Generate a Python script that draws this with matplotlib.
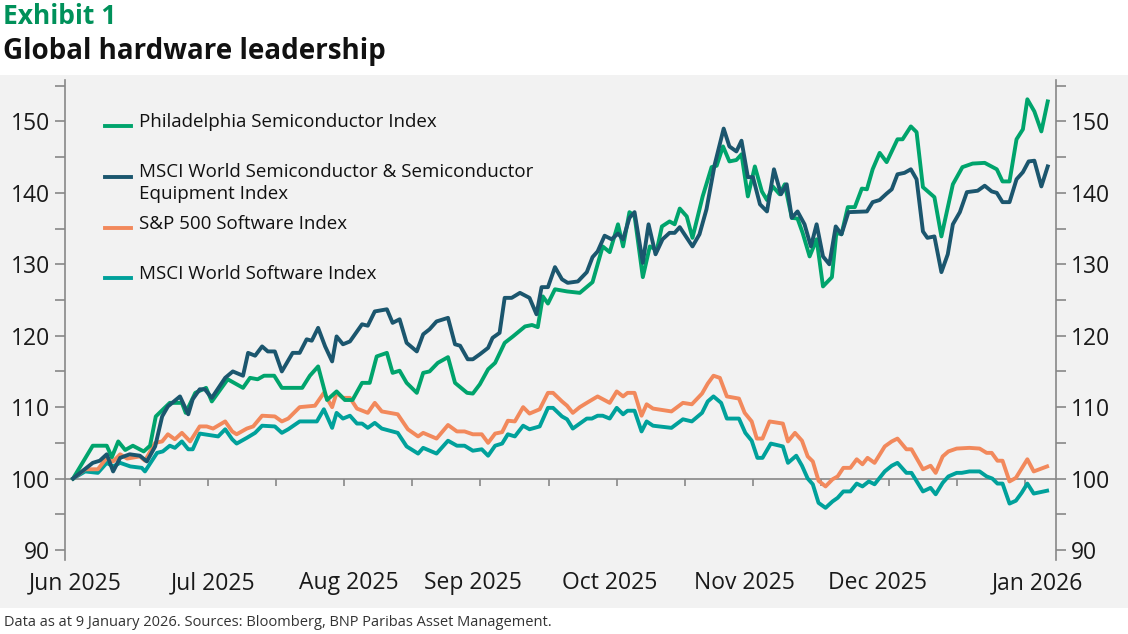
import matplotlib
matplotlib.use("Agg")
import matplotlib.pyplot as plt
from matplotlib.lines import Line2D
from matplotlib.patches import Rectangle
import numpy as np

plt.rcParams['font.family'] = ['Open Sans', 'DejaVu Sans']

series_names = ["Philadelphia Semiconductor Index",
                "MSCI World Semiconductor & Semiconductor\nEquipment Index",
                "S&P 500 Software Index",
                "MSCI World Software Index"]
colors = ["#00a46c", "#1b566e", "#f2895c", "#00a19b"]

# x = trading-day index from 2 Jun 2025
sox_x = [0,3.1,5.3,6.1,7.1,8.2,9.4,11.1,12.1,13.0,15.2,17.1,17.7,19.2,20.9,21.8,24.3,26.7,27.8,29.0,30.0,31.6,32.8,36.0,37.2,38.5,39.9,41.4,42.7,43.9,45.4,46.6,47.7,49.3,50.2,51.3,52.4,54.0,55.0,56.0,57.3,58.9,60.0,61.9,62.8,63.9,65.2,66.3,67.8,69.1,71.0,72.1,73.0,73.8,74.6,75.7,77.6,79.6,81.6,83.2,84.3,85.6,86.4,87.4,88.2,89.5,90.6,91.7,92.5,93.7,94.5,95.3,96.4,97.3,98.9,100.3,101.1,102.1,103.1,104.2,105.0,106.0,107.1,108.2,109.0,109.9,111.0,111.8,112.9,113.8,114.6,115.7,116.8,117.8,119.2,119.9,120.7,121.7,122.8,123.9,124.7,125.6,126.7,127.8,129.5,130.3,131.6,132.5,133.5,135.3,136.4,138.2,139.7,141.3,143.2,145.1,146.0,147.1,148.2,149.2,149.9,151.0,152.1,153.1]
sox_y = [100,104.6,104.6,103.0,105.2,104.0,104.6,103.8,104.6,108.7,110.6,110.6,109.2,112.0,112.7,110.8,113.9,112.7,114.1,113.9,114.4,114.4,112.7,112.7,114.4,115.7,111.0,112.2,111.0,111.0,113.4,113.4,117.1,117.6,114.8,115.1,113.4,112.0,114.8,115.0,116.2,117.0,113.4,112.0,111.9,113.2,115.3,116.2,119.0,119.9,121.3,121.5,121.2,125.5,124.5,126.5,126.2,126.0,127.5,132.5,131.7,135.6,132.5,137.3,136.8,128.2,132.5,132.0,135.3,136.0,135.6,137.8,136.7,133.7,139.5,143.6,143.8,146.5,144.4,144.6,145.4,139.5,143.7,140.2,139.0,140.9,139.8,141.2,136.5,136.4,134.4,131.1,133.5,126.9,128.2,134.4,134.2,138.0,138.0,140.6,140.5,143.3,145.6,144.3,147.5,147.5,149.3,148.5,140.8,139.4,133.9,141.2,143.6,144.1,144.2,143.3,141.6,141.6,147.5,148.9,153.1,151.4,148.6,152.8]

msemi_x = [0,3.1,4.2,5.3,6.3,7.4,8.9,10.5,11.6,12.9,14.0,14.9,16.8,18.1,18.8,19.9,20.7,21.8,23.9,25.1,26.7,27.5,28.6,29.7,30.6,31.7,32.8,34.5,35.6,36.7,37.5,38.5,39.6,40.7,41.4,42.4,43.5,45.4,46.3,47.4,49.3,50.2,51.3,52.4,54.0,55.0,56.0,57.1,58.9,60.0,60.8,62.0,62.8,63.9,65.2,65.9,67.0,67.8,68.9,70.2,71.7,72.8,73.6,74.6,75.7,76.8,77.7,79.3,80.7,81.6,82.4,83.5,84.6,85.6,86.4,87.4,88.2,89.5,90.4,91.5,92.6,93.7,94.5,95.3,96.4,97.3,98.4,99.5,100.8,102.2,103.1,104.2,105.0,106.0,106.8,107.9,109.0,110.1,111.2,112.1,112.9,113.8,114.9,115.9,116.8,117.8,118.8,119.8,120.7,121.8,124.7,125.6,126.7,127.8,128.6,129.5,130.6,131.6,132.5,133.5,134.2,135.3,136.4,137.4,138.2,139.3,140.4,142.1,143.2,144.3,145.1,146.0,147.1,148.2,149.2,150.1,151.0,152.1,153.1]
msemi_y = [100,102.2,102.5,103.4,101.0,102.9,103.4,103.2,102.4,104.5,108.7,110.1,111.5,109.0,111.1,112.5,112.5,111.3,114.1,115.0,114.4,117.6,117.2,118.5,117.8,117.8,115.0,117.6,117.6,119.5,119.3,121.1,118.5,116.4,119.9,118.8,119.2,121.6,121.4,123.4,123.7,121.8,122.3,119.0,117.8,120.2,120.9,122.0,122.5,118.8,118.6,116.7,116.7,117.4,118.3,119.7,120.4,125.3,125.3,126.0,125.3,123.0,126.8,126.8,129.6,127.9,127.4,127.6,128.9,131.0,131.8,134.0,133.5,134.3,133.5,136.5,137.3,130.2,135.6,131.4,133.5,134.4,134.4,135.2,133.7,132.5,134.2,137.7,144.0,149.0,146.5,145.8,147.3,142.2,142.2,138.4,137.4,143.3,139.8,141.2,136.5,137.4,135.6,132.5,135.6,131.1,130.0,135.3,134.2,137.3,137.4,138.7,139.0,139.9,140.5,142.6,142.8,143.3,141.9,134.6,133.7,133.9,128.9,131.4,135.6,137.3,140.1,140.3,141.0,140.2,140.0,138.7,138.7,141.9,142.9,144.4,144.5,140.9,143.7]

spsw_x = [0,1.9,3.9,5.3,6.3,7.4,8.5,10.5,11.3,12.9,14.0,14.9,16.0,17.1,18.4,19.9,21.0,22.0,23.9,25.0,25.7,27.3,28.3,29.7,31.7,32.8,33.8,35.6,38.0,39.4,40.7,41.4,42.4,43.5,44.6,46.3,47.4,48.5,51.0,52.6,54.2,55.0,57.1,58.9,60.3,61.5,62.8,64.2,65.2,66.3,67.4,68.3,69.4,70.7,71.7,73.3,74.6,75.4,76.8,77.6,78.5,79.6,80.7,82.4,84.3,85.4,86.4,87.1,88.2,89.3,90.1,91.1,94.0,95.8,97.2,98.8,99.7,100.6,101.6,102.7,104.6,105.5,106.6,107.4,108.3,109.4,111.5,112.3,113.4,114.5,115.4,116.2,117.1,118.2,119.3,120.1,121.0,122.1,123.1,124.0,124.8,125.9,127.5,128.6,129.5,130.9,131.7,133.5,134.7,135.5,136.6,137.5,138.8,140.8,142.4,143.5,144.3,145.2,146.0,147.1,148.1,149.0,149.9,150.9,153.0]
spsw_y = [100,101.3,101.3,102.9,102.4,103.4,102.8,103.1,102.5,105.0,105.2,106.2,105.5,106.4,105.2,107.3,107.3,107.0,108.0,106.6,106.2,107.0,107.3,108.8,108.7,108.0,108.4,110.0,110.2,112.0,110.0,112.0,111.3,111.3,109.8,109.2,110.6,109.4,109.0,106.9,105.9,106.4,105.6,107.5,106.6,106.6,106.2,106.2,105.0,106.3,106.5,108.1,108.0,110.0,109.1,109.7,112.0,112.0,110.8,110.2,109.2,110.0,110.6,111.5,110.6,112.2,111.5,112.0,112.0,108.8,110.4,109.8,109.4,110.6,110.4,111.9,113.3,114.4,114.1,111.5,111.2,109.2,108.0,105.6,105.6,108.0,107.7,105.2,106.4,105.3,103.1,102.4,99.7,98.9,99.9,100.3,101.5,101.5,102.7,102.0,102.9,102.2,104.5,105.2,105.6,104.1,104.1,101.3,101.8,100.8,103.1,103.8,104.2,104.3,104.2,103.6,103.6,102.5,102.5,99.6,100.1,101.4,102.7,101.0,101.7]

mwsw_x = [0,1.9,3.9,5.3,6.3,7.4,9.0,10.8,11.3,13.2,14.1,15.2,16.0,17.1,18.1,18.8,19.9,22.8,23.9,25.0,25.7,27.3,28.6,29.7,31.7,32.8,33.8,35.6,38.3,39.4,40.7,41.4,42.4,43.5,44.6,45.4,46.3,47.4,48.5,51.0,52.4,54.2,55.0,57.1,58.9,60.3,61.5,62.8,64.2,65.2,66.3,67.4,68.3,69.4,70.7,71.7,73.3,74.6,75.4,76.8,77.6,78.5,79.6,80.7,81.5,82.4,83.2,84.3,85.4,86.4,87.1,88.2,89.3,90.1,91.1,94.0,95.8,97.2,98.8,99.7,100.6,101.8,102.7,104.6,105.6,106.6,107.5,108.3,109.6,111.5,112.3,113.6,114.5,115.4,116.2,117.1,118.2,119.3,120.1,121.0,122.1,123.1,124.0,125.0,125.9,127.5,128.6,129.5,130.9,131.7,133.5,134.7,135.5,136.6,137.5,138.8,139.6,140.8,142.4,143.5,144.4,145.2,146.0,147.1,148.1,149.0,149.9,150.9,153.0]
mwsw_y = [100,101.0,100.8,102.2,101.7,102.2,101.7,101.5,101.0,103.6,103.8,104.6,104.3,105.2,104.1,104.1,106.3,105.9,106.9,105.5,104.9,105.7,106.4,107.4,107.3,106.4,106.9,108.0,108.0,109.7,107.1,109.2,108.4,108.8,107.7,107.7,107.1,107.8,107.0,106.4,104.5,103.5,104.3,103.5,105.3,104.6,104.6,103.9,104.1,103.2,104.6,104.9,106.2,105.9,107.4,106.9,107.3,109.9,109.9,108.7,108.3,107.0,107.7,108.4,108.4,108.8,108.8,108.4,109.9,109.0,109.5,109.5,106.6,108.0,107.4,107.1,108.3,108.0,109.2,110.8,111.5,110.6,108.4,108.4,106.4,105.3,102.9,102.9,104.9,104.5,102.2,103.2,101.8,100.0,99.2,96.6,95.9,96.8,97.3,98.2,98.2,99.3,98.9,99.6,99.2,101.0,101.8,102.2,100.8,100.8,98.2,98.7,97.8,99.4,100.3,100.8,100.8,101.0,101.0,100.3,100.0,99.3,99.3,96.5,96.9,98.0,99.3,97.9,98.3]

month_labels = ["Jun 2025", "Jul 2025", "Aug 2025", "Sep 2025", "Oct 2025", "Nov 2025", "Dec 2025", "Jan 2026"]
month_pos = [0.3, 22.0, 43.3, 62.8, 84.3, 105.5, 126.4, 151.5]
y_ticks = [90, 100, 110, 120, 130, 140, 150]

W, H = 1128, 634
fig = plt.figure(figsize=(W/100, H/100), dpi=100)
fig.patches.append(Rectangle((0, 26/H), 1, (608-75)/H, transform=fig.transFigure,
                             facecolor="#f2f2f2", edgecolor="none", zorder=-10))
ax = fig.add_axes([65/W, 1-560/H, (1056-65)/W, (560-80)/H])
ax.set_facecolor("none")
xs = [sox_x, msemi_x, spsw_x, mwsw_x]
ys = [sox_y, msemi_y, spsw_y, mwsw_y]
order = [3, 2, 0, 1]
for i in order:
    ax.plot(xs[i], ys[i], color=colors[i], lw=2.8, solid_joinstyle="round", zorder=3 + (i == 1))

ax.set_xlim(-1.26, 154.4)
ax.set_ylim(88.6, 155.8)
ax.axhline(100, color="#888888", lw=1.2, zorder=1)
tk = np.arange(10.5, 154, 10.7)
ax.vlines(tk, 98.9, 100, color="#888888", lw=1.2, zorder=1)

for s in ["top", "bottom"]:
    ax.spines[s].set_visible(False)
for s in ["left", "right"]:
    ax.spines[s].set_color("#888888")
    ax.spines[s].set_linewidth(1.2)
ax.set_yticks(y_ticks)
ax.set_yticks(np.arange(90, 156, 5), minor=True)
ax.tick_params(axis="y", which="both", direction="out", length=7, color="#888888", width=1.2,
               labelsize=16.5, labelcolor="#1a1a1a", left=True, right=True, labelleft=True, labelright=True, pad=4)
ax.set_xticks(month_pos)
ax.set_xticklabels(month_labels)
ax.tick_params(axis="x", length=0, labelsize=16.5, labelcolor="#1a1a1a", pad=8)

leg_y = [122, 173, 224, 274]
for i, yy in enumerate(leg_y):
    fig.add_artist(Line2D([105/W, 131/W], [1-(yy+4)/H]*2, color=colors[i], lw=2.8))
    if i == 1:
        fig.text(139/W, 1-(yy-10)/H, series_names[i], fontsize=13.5, va="top", ha="left",
                 color="#111111", linespacing=1.3)
    else:
        fig.text(139/W, 1 - yy/H, series_names[i], fontsize=13.5, va="center", ha="left", color="#111111")

fig.text(3/W, 1-17/H, "Exhibit 1", fontsize=19, fontweight="bold", color="#00915a", va="center")
fig.text(3/W, 1-52/H, "Global hardware leadership", fontsize=20, fontweight="bold", color="#111111", va="center")
fig.text(4/W, 1-622/H, "Data as at 9 January 2026. Sources: Bloomberg, BNP Paribas Asset Management.",
         fontsize=10.5, color="#333333", va="center")

fig.savefig("out.png", dpi=100)
